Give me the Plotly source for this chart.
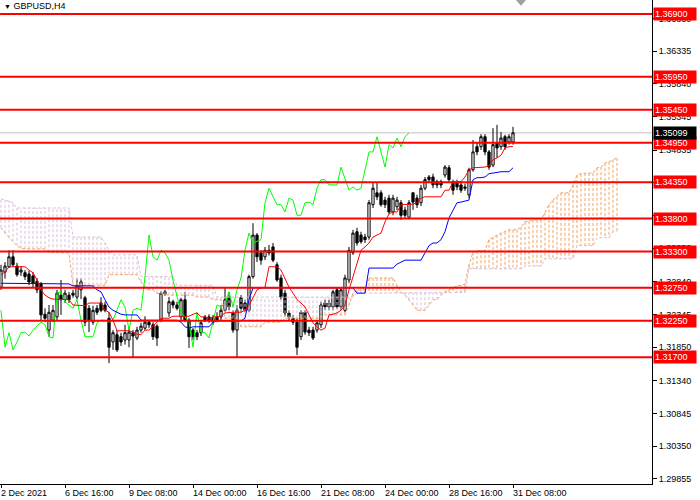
import plotly.graph_objects as go

# GBPUSD H4, 129 bars
open_ = [1.3276, 1.3299, 1.3307, 1.3322, 1.3308, 1.3299, 1.3298, 1.3296, 1.3293, 1.3285,
         1.3281, 1.3235, 1.3211, 1.3226, 1.3231, 1.3264, 1.3257, 1.3264, 1.3267, 1.3261,
         1.3272, 1.3260, 1.3244, 1.3223, 1.3244, 1.3252, 1.3249, 1.3229, 1.3193, 1.3204,
         1.3201, 1.3196, 1.3196, 1.3207, 1.3199, 1.3211, 1.3214, 1.3223, 1.3219, 1.3217,
         1.3226, 1.3266, 1.3237, 1.3254, 1.3249, 1.3231, 1.3257, 1.3226, 1.3211, 1.3207,
         1.3207, 1.3231, 1.3231, 1.3229, 1.3231, 1.3231, 1.3241, 1.3260, 1.3237, 1.3211,
         1.3260, 1.3252, 1.3241, 1.3292, 1.3355, 1.3328, 1.3322, 1.3332, 1.3337, 1.3310,
         1.3290, 1.3267, 1.3237, 1.3229, 1.3223, 1.3201, 1.3238, 1.3211, 1.3211, 1.3211,
         1.3219, 1.3252, 1.3246, 1.3246, 1.3272, 1.3246, 1.3241, 1.3287, 1.3328, 1.3360,
         1.3355, 1.3352, 1.3352, 1.3401, 1.3419, 1.3419, 1.3408, 1.3411, 1.3390, 1.3398,
         1.3404, 1.3393, 1.3382, 1.3419, 1.3411, 1.3404, 1.3426, 1.3443, 1.3443, 1.3436,
         1.3436, 1.3446, 1.3457, 1.3436, 1.3434, 1.3431, 1.3428, 1.3416, 1.3454, 1.3489,
         1.3489, 1.3504, 1.3481, 1.3461, 1.3495, 1.3489, 1.3504, 1.3496, 1.3496]
high = [1.3310, 1.3314, 1.3332, 1.3332, 1.3313, 1.3308, 1.3302, 1.3301, 1.3299, 1.3290,
        1.3284, 1.3244, 1.3249, 1.3249, 1.3272, 1.3287, 1.3272, 1.3269, 1.3272, 1.3289,
        1.3289, 1.3263, 1.3249, 1.3248, 1.3249, 1.3261, 1.3254, 1.3238, 1.3211, 1.3211,
        1.3207, 1.3219, 1.3216, 1.3211, 1.3216, 1.3222, 1.3232, 1.3226, 1.3223, 1.3220,
        1.3270, 1.3272, 1.3261, 1.3257, 1.3254, 1.3260, 1.3269, 1.3229, 1.3214, 1.3211,
        1.3226, 1.3234, 1.3235, 1.3234, 1.3238, 1.3249, 1.3275, 1.3269, 1.3241, 1.3249,
        1.3264, 1.3257, 1.3295, 1.3373, 1.3358, 1.3332, 1.3337, 1.3340, 1.3343, 1.3314,
        1.3295, 1.3272, 1.3241, 1.3234, 1.3229, 1.3241, 1.3241, 1.3216, 1.3216, 1.3226,
        1.3254, 1.3257, 1.3257, 1.3272, 1.3276, 1.3276, 1.3295, 1.3337, 1.3363, 1.3366,
        1.3360, 1.3357, 1.3408, 1.3434, 1.3434, 1.3423, 1.3413, 1.3416, 1.3416, 1.3413,
        1.3408, 1.3398, 1.3408, 1.3420, 1.3416, 1.3431, 1.3443, 1.3446, 1.3448, 1.3439,
        1.3439, 1.3461, 1.3461, 1.3439, 1.3439, 1.3436, 1.3433, 1.3457, 1.3499, 1.3495,
        1.3508, 1.3508, 1.3484, 1.3517, 1.3522, 1.3511, 1.3507, 1.3508, 1.3519]
low = [1.3272, 1.3289, 1.3305, 1.3307, 1.3292, 1.3293, 1.3287, 1.3279, 1.3276, 1.3267,
       1.3226, 1.3223, 1.3201, 1.3223, 1.3226, 1.3234, 1.3252, 1.3252, 1.3260, 1.3257,
       1.3258, 1.3217, 1.3208, 1.3219, 1.3234, 1.3238, 1.3238, 1.3161, 1.3181, 1.3178,
       1.3187, 1.3189, 1.3185, 1.3170, 1.3196, 1.3207, 1.3211, 1.3214, 1.3196, 1.3187,
       1.3223, 1.3263, 1.3231, 1.3244, 1.3241, 1.3226, 1.3223, 1.3184, 1.3196, 1.3196,
       1.3202, 1.3223, 1.3222, 1.3219, 1.3223, 1.3226, 1.3238, 1.3241, 1.3207, 1.3170,
       1.3238, 1.3238, 1.3238, 1.3289, 1.3314, 1.3310, 1.3317, 1.3324, 1.3314, 1.3284,
       1.3257, 1.3232, 1.3226, 1.3219, 1.3173, 1.3196, 1.3204, 1.3202, 1.3196, 1.3207,
       1.3214, 1.3241, 1.3241, 1.3241, 1.3243, 1.3241, 1.3238, 1.3282, 1.3325, 1.3339,
       1.3342, 1.3343, 1.3348, 1.3396, 1.3408, 1.3398, 1.3396, 1.3387, 1.3385, 1.3393,
       1.3378, 1.3381, 1.3379, 1.3393, 1.3396, 1.3399, 1.3423, 1.3434, 1.3426, 1.3426,
       1.3426, 1.3442, 1.3434, 1.3416, 1.3423, 1.3419, 1.3422, 1.3411, 1.3451, 1.3476,
       1.3484, 1.3476, 1.3454, 1.3458, 1.3472, 1.3484, 1.3484, 1.3492, 1.3492]
close = [1.3302, 1.3308, 1.3322, 1.3310, 1.3295, 1.3302, 1.3292, 1.3284, 1.3282, 1.3272,
         1.3234, 1.3229, 1.3238, 1.3241, 1.3267, 1.3257, 1.3267, 1.3257, 1.3264, 1.3279,
         1.3284, 1.3223, 1.3226, 1.3241, 1.3238, 1.3241, 1.3241, 1.3185, 1.3207, 1.3181,
         1.3193, 1.3207, 1.3208, 1.3202, 1.3211, 1.3217, 1.3223, 1.3219, 1.3201, 1.3199,
         1.3267, 1.3269, 1.3254, 1.3249, 1.3244, 1.3257, 1.3226, 1.3201, 1.3201, 1.3201,
         1.3222, 1.3226, 1.3226, 1.3223, 1.3226, 1.3241, 1.3257, 1.3246, 1.3211, 1.3241,
         1.3244, 1.3241, 1.3292, 1.3355, 1.3322, 1.3317, 1.3332, 1.3328, 1.3317, 1.3287,
         1.3261, 1.3237, 1.3231, 1.3223, 1.3185, 1.3238, 1.3208, 1.3207, 1.3199, 1.3222,
         1.3249, 1.3246, 1.3252, 1.3269, 1.3246, 1.3272, 1.3290, 1.3332, 1.3358, 1.3343,
         1.3345, 1.3348, 1.3404, 1.3426, 1.3413, 1.3401, 1.3401, 1.3390, 1.3411, 1.3408,
         1.3385, 1.3385, 1.3404, 1.3405, 1.3401, 1.3426, 1.3439, 1.3439, 1.3431, 1.3431,
         1.3431, 1.3458, 1.3439, 1.3423, 1.3428, 1.3423, 1.3426, 1.3454, 1.3481, 1.3481,
         1.3504, 1.3481, 1.3458, 1.3492, 1.3487, 1.3502, 1.3489, 1.3504, 1.3510]

# Ichimoku lines
tenkan = [1.3295, 1.3299, 1.3307, 1.3307, 1.3307, 1.3307, 1.3307, 1.3302, 1.3298, 1.3287,
          1.3272, 1.3264, 1.3260, 1.3258, 1.3258, 1.3258, 1.3258, 1.3257, 1.3249, 1.3249,
          1.3248, 1.3248, 1.3252, 1.3252, 1.3252, 1.3252, 1.3241, 1.3238, 1.3226, 1.3210,
          1.3210, 1.3210, 1.3210, 1.3208, 1.3205, 1.3204, 1.3211, 1.3211, 1.3217, 1.3223,
          1.3229, 1.3229, 1.3229, 1.3232, 1.3232, 1.3232, 1.3232, 1.3232, 1.3235, 1.3237,
          1.3231, 1.3231, 1.3229, 1.3231, 1.3231, 1.3232, 1.3237, 1.3238, 1.3238, 1.3238,
          1.3238, 1.3241, 1.3249, 1.3260, 1.3272, 1.3275, 1.3276, 1.3307, 1.3307, 1.3307,
          1.3302, 1.3290, 1.3276, 1.3267, 1.3257, 1.3252, 1.3246, 1.3234, 1.3222, 1.3216,
          1.3211, 1.3214, 1.3234, 1.3235, 1.3237, 1.3241, 1.3249, 1.3272, 1.3292, 1.3313,
          1.3332, 1.3337, 1.3343, 1.3352, 1.3355, 1.3358, 1.3375, 1.3387, 1.3390, 1.3390,
          1.3401, 1.3401, 1.3401, 1.3402, 1.3404, 1.3411, 1.3413, 1.3413, 1.3413, 1.3413,
          1.3413, 1.3423, 1.3423, 1.3436, 1.3436, 1.3436, 1.3443, 1.3454, 1.3457, 1.3457,
          1.3458, 1.3458, 1.3460, 1.3469, 1.3472, 1.3476, 1.3487, 1.3489, 1.3489]
kijun = [1.3282, 1.3282, 1.3282, 1.3282, 1.3282, 1.3282, 1.3282, 1.3282, 1.3282, 1.3281,
         1.3281, 1.3281, 1.3281, 1.3281, 1.3281, 1.3281, 1.3281, 1.3281, 1.3278, 1.3278,
         1.3278, 1.3278, 1.3278, 1.3278, 1.3272, 1.3269, 1.3257, 1.3246, 1.3241, 1.3238,
         1.3235, 1.3234, 1.3234, 1.3234, 1.3234, 1.3226, 1.3226, 1.3226, 1.3226, 1.3226,
         1.3226, 1.3226, 1.3226, 1.3226, 1.3226, 1.3223, 1.3216, 1.3214, 1.3216, 1.3216,
         1.3216, 1.3216, 1.3216, 1.3223, 1.3225, 1.3225, 1.3225, 1.3225, 1.3225, 1.3225,
         1.3225, 1.3229, 1.3257, 1.3275, 1.3275, 1.3275, 1.3275, 1.3275, 1.3275, 1.3275,
         1.3275, 1.3275, 1.3275, 1.3275, 1.3275, 1.3275, 1.3275, 1.3275, 1.3275, 1.3275,
         1.3275, 1.3275, 1.3275, 1.3275, 1.3275, 1.3275, 1.3275, 1.3275, 1.3275, 1.3267,
         1.3267, 1.3267, 1.3305, 1.3305, 1.3305, 1.3305, 1.3305, 1.3305, 1.3305, 1.3311,
         1.3314, 1.3317, 1.3317, 1.3317, 1.3317, 1.3317, 1.3328, 1.3339, 1.3343, 1.3343,
         1.3348, 1.3360, 1.3381, 1.3393, 1.3404, 1.3405, 1.3407, 1.3408, 1.3439, 1.3442,
         1.3442, 1.3443, 1.3448, 1.3449, 1.3451, 1.3451, 1.3451, 1.3451, 1.3457]
# Senkou spans, already shifted 26 bars ahead (155 points)
span_a = [1.3366, 1.3358, 1.3351, 1.3345, 1.3339, 1.3335, 1.3334, 1.3334, 1.3334, 1.3334,
          1.3334, 1.3334, 1.3329, 1.3329, 1.3329, 1.3329, 1.3329, 1.3328, 1.3279, 1.3279,
          1.3279, 1.3279, 1.3279, 1.3279, 1.3279, 1.3279, 1.3279, 1.3295, 1.3295, 1.3295,
          1.3295, 1.3295, 1.3295, 1.3295, 1.3295, 1.3284, 1.3275, 1.3272, 1.3272, 1.3267,
          1.3266, 1.3264, 1.3264, 1.3264, 1.3264, 1.3264, 1.3264, 1.3264, 1.3264, 1.3261,
          1.3261, 1.3261, 1.3261, 1.3257, 1.3257, 1.3257, 1.3229, 1.3229, 1.3229, 1.3229,
          1.3216, 1.3216, 1.3216, 1.3216, 1.3216, 1.3216, 1.3223, 1.3223, 1.3223, 1.3223,
          1.3223, 1.3229, 1.3229, 1.3229, 1.3229, 1.3229, 1.3229, 1.3229, 1.3229, 1.3229,
          1.3229, 1.3234, 1.3234, 1.3234, 1.3234, 1.3234, 1.3234, 1.3249, 1.3267, 1.3272,
          1.3272, 1.3272, 1.3290, 1.3290, 1.3290, 1.3290, 1.3290, 1.3290, 1.3290, 1.3279,
          1.3269, 1.3264, 1.3257, 1.3249, 1.3241, 1.3241, 1.3241, 1.3249, 1.3257, 1.3257,
          1.3264, 1.3269, 1.3272, 1.3275, 1.3278, 1.3279, 1.3281, 1.3310, 1.3329, 1.3331,
          1.3332, 1.3332, 1.3348, 1.3352, 1.3355, 1.3358, 1.3360, 1.3363, 1.3363, 1.3363,
          1.3367, 1.3375, 1.3376, 1.3378, 1.3378, 1.3378, 1.3389, 1.3401, 1.3408, 1.3413,
          1.3419, 1.3419, 1.3419, 1.3431, 1.3446, 1.3448, 1.3449, 1.3449, 1.3449, 1.3457,
          1.3458, 1.3464, 1.3466, 1.3469, 1.3472]
span_b = [1.3410, 1.3408, 1.3407, 1.3404, 1.3396, 1.3396, 1.3396, 1.3396, 1.3396, 1.3396,
          1.3396, 1.3396, 1.3396, 1.3396, 1.3396, 1.3396, 1.3396, 1.3396, 1.3352, 1.3352,
          1.3352, 1.3352, 1.3352, 1.3352, 1.3352, 1.3352, 1.3343, 1.3332, 1.3325, 1.3325,
          1.3325, 1.3325, 1.3325, 1.3325, 1.3325, 1.3292, 1.3292, 1.3292, 1.3292, 1.3292,
          1.3292, 1.3292, 1.3292, 1.3292, 1.3279, 1.3279, 1.3279, 1.3279, 1.3279, 1.3279,
          1.3279, 1.3279, 1.3279, 1.3279, 1.3261, 1.3261, 1.3261, 1.3261, 1.3261, 1.3261,
          1.3261, 1.3261, 1.3261, 1.3261, 1.3261, 1.3261, 1.3261, 1.3261, 1.3261, 1.3261,
          1.3261, 1.3261, 1.3261, 1.3261, 1.3261, 1.3261, 1.3261, 1.3261, 1.3261, 1.3261,
          1.3261, 1.3261, 1.3261, 1.3261, 1.3261, 1.3261, 1.3261, 1.3261, 1.3261, 1.3267,
          1.3267, 1.3267, 1.3267, 1.3267, 1.3267, 1.3267, 1.3267, 1.3267, 1.3267, 1.3267,
          1.3267, 1.3268, 1.3268, 1.3268, 1.3268, 1.3268, 1.3268, 1.3268, 1.3268, 1.3268,
          1.3268, 1.3268, 1.3268, 1.3268, 1.3268, 1.3268, 1.3268, 1.3304, 1.3304, 1.3304,
          1.3304, 1.3304, 1.3304, 1.3304, 1.3304, 1.3304, 1.3304, 1.3304, 1.3304, 1.3304,
          1.3304, 1.3308, 1.3308, 1.3308, 1.3308, 1.3308, 1.3319, 1.3319, 1.3319, 1.3319,
          1.3319, 1.3319, 1.3319, 1.3319, 1.3339, 1.3339, 1.3339, 1.3339, 1.3339, 1.3351,
          1.3351, 1.3351, 1.3351, 1.3360, 1.3360]

levels = [1.36900, 1.35950, 1.35450, 1.34950, 1.34350, 1.33800, 1.33300, 1.32750, 1.32250, 1.31700]
last_price = 1.35099
y_ticks = [1.36830, 1.36335, 1.35840, 1.35345, 1.34835, 1.34340, 1.33845, 1.33350,
           1.32840, 1.32345, 1.31850, 1.31340, 1.30845, 1.30350, 1.29855]
x_tick_bars = [0, 16, 32, 48, 64, 80, 96, 112, 128]
x_tick_text = ["2 Dec 2021", "6 Dec 16:00", "9 Dec 08:00", "14 Dec 00:00", "16 Dec 16:00",
               "21 Dec 08:00", "24 Dec 00:00", "28 Dec 16:00", "31 Dec 08:00"]

SHIFT = 26
FONT = "Liberation Sans, Arial, sans-serif"
bars = list(range(len(close)))
cloud_bars = list(range(len(span_a)))

fig = go.Figure()

# cloud hatching: one dotted vertical per bar
up_x, up_y, dn_x, dn_y = [], [], [], []
for i, a, b in zip(cloud_bars, span_a, span_b):
    if a >= b:
        up_x += [i, i, None]
        up_y += [a, b, None]
    else:
        dn_x += [i, i, None]
        dn_y += [a, b, None]
fig.add_trace(go.Scatter(x=dn_x, y=dn_y, mode="lines",
                         line=dict(color="#D8BFD8", width=1, dash="3px,2px")))
fig.add_trace(go.Scatter(x=up_x, y=up_y, mode="lines",
                         line=dict(color="#F4A460", width=1, dash="3px,2px")))
fig.add_trace(go.Scatter(x=cloud_bars, y=span_b, mode="lines",
                         line=dict(color="#D8BFD8", width=1, dash="3px,2px")))
fig.add_trace(go.Scatter(x=cloud_bars, y=span_a, mode="lines",
                         line=dict(color="#F4A460", width=1, dash="3px,2px")))

fig.add_trace(go.Candlestick(
    x=bars, open=open_, high=high, low=low, close=close,
    increasing=dict(line=dict(color="black", width=1), fillcolor="white"),
    decreasing=dict(line=dict(color="black", width=1), fillcolor="black"),
    whiskerwidth=0, hoverinfo="skip"))

# chikou span = close shifted back
fig.add_trace(go.Scatter(x=bars[:len(close) - SHIFT], y=close[SHIFT:], mode="lines",
                         line=dict(color="#00FF00", width=1)))
fig.add_trace(go.Scatter(x=bars, y=kijun, mode="lines", line=dict(color="#0000FF", width=1)))
fig.add_trace(go.Scatter(x=bars, y=tenkan, mode="lines", line=dict(color="#FF0000", width=1)))

# bid line
fig.add_shape(type="line", xref="paper", x0=0, x1=1, y0=last_price, y1=last_price,
              line=dict(color="#C0C0C0", width=1), layer="below")

annotations = []
for lv in levels:
    fig.add_shape(type="line", xref="paper", x0=0, x1=1, y0=lv, y1=lv,
                  line=dict(color="#FF0000", width=2), layer="above")
    annotations.append(dict(xref="paper", x=1, xanchor="left", xshift=1, y=lv, yref="y",
                            text=f"{lv:.5f}", showarrow=False, bgcolor="#FF0000",
                            font=dict(family=FONT, size=9, color="white"),
                            width=40, height=10, borderpad=1, align="left"))
annotations.append(dict(xref="paper", x=1, xanchor="left", xshift=1, y=last_price, yref="y",
                        text=f"{last_price:.5f}", showarrow=False, bgcolor="black",
                        font=dict(family=FONT, size=9, color="white"),
                        width=40, height=10, borderpad=1, align="left"))
annotations.append(dict(xref="paper", yref="paper", x=0, y=1, xanchor="left", yanchor="top",
                        xshift=2, yshift=1, showarrow=False,
                        text="<span style='font-size:7px'>▼</span> GBPUSD,H4",
                        font=dict(family=FONT, size=9, color="black")))
# time labels start at their tick, MT4 style
for b, t in zip(x_tick_bars, x_tick_text):
    annotations.append(dict(xref="x", yref="paper", x=b, y=0, xanchor="left", yanchor="top",
                            xshift=-2, yshift=-2, showarrow=False, text=t,
                            font=dict(family=FONT, size=9, color="black")))

# chart-shift marker at the top
fig.add_shape(type="path", xref="x", yref="paper",
              path="M 128.9 1 L 131.1 1 L 130 0.989 Z",
              fillcolor="#A0A0A0", line=dict(color="#A0A0A0", width=1))

fig.update_layout(
    width=700, height=500,
    margin=dict(l=0, r=48, t=0, b=16, autoexpand=False),
    paper_bgcolor="white", plot_bgcolor="white",
    showlegend=False,
    boxgap=0.2,
    font=dict(family=FONT, size=9, color="black"),
    annotations=annotations,
    xaxis=dict(range=[-0.25, 162.75], tickvals=x_tick_bars, showticklabels=False,
               ticks="outside", ticklen=3, tickcolor="black",
               showgrid=False, zeroline=False, showline=True, linecolor="black", linewidth=1,
               rangeslider=dict(visible=False), fixedrange=True),
    yaxis=dict(range=[1.29778, 1.37112], side="right", tickvals=y_ticks,
               ticktext=[f"{v:.5f}" for v in y_ticks], ticks="outside", ticklen=4,
               tickcolor="black", showgrid=False, zeroline=False, showline=True,
               linecolor="black", linewidth=1, fixedrange=True),
)

# the page's default body margin would shift the chart by 8px
fig.write_html("out.html", config={"displayModeBar": False},
               post_script="document.body.style.margin='0';")
